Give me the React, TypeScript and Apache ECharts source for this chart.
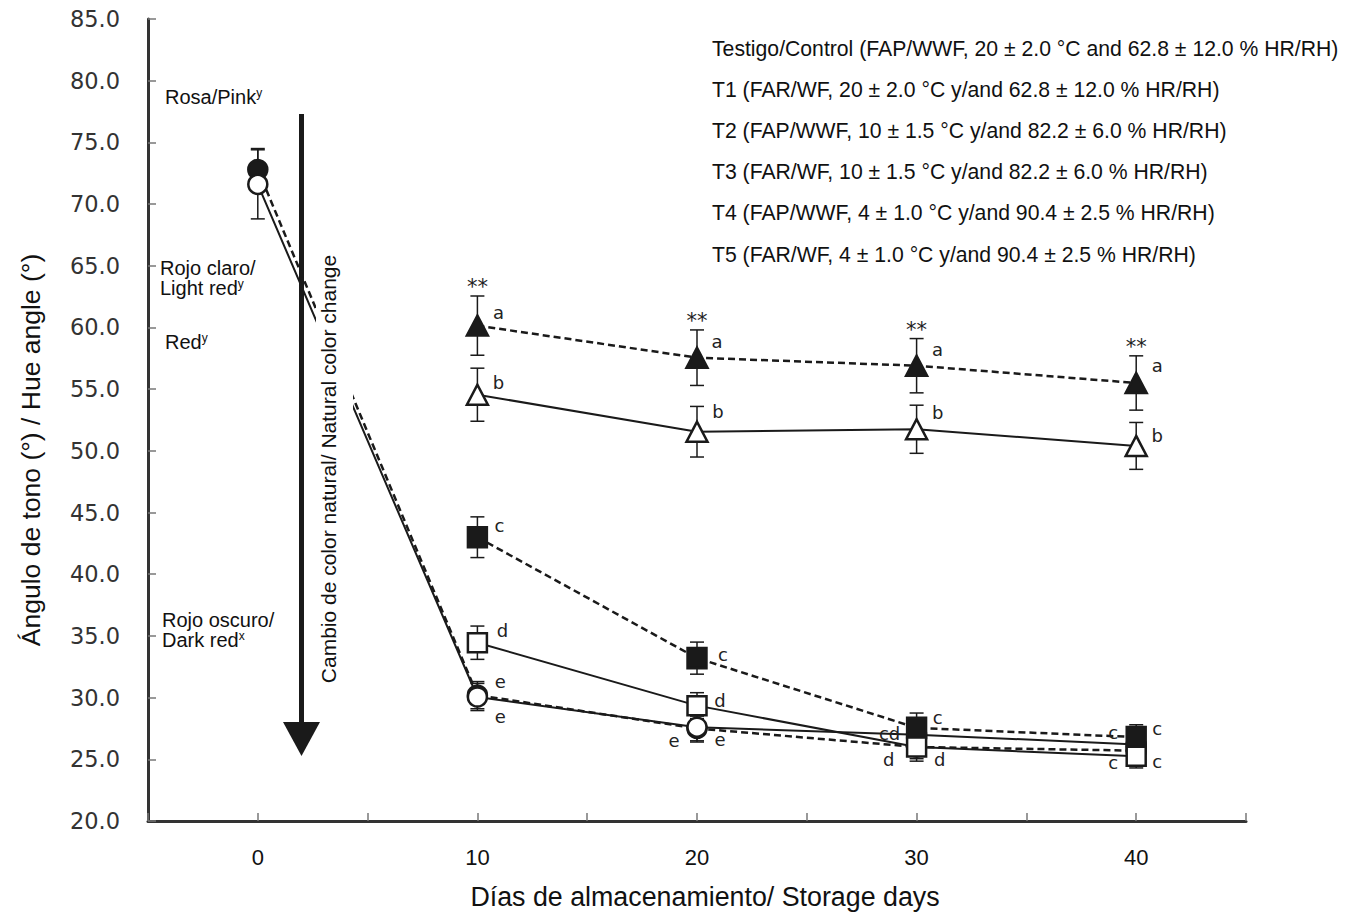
import React, { useEffect, useRef } from "react";
import * as echarts from "echarts";

// ---------- data ----------
const days = [0, 10, 20, 30, 40];
const xTickLabels = ["0", "10", "20", "30", "40"];

const legendNames = [
  "Testigo/Control (FAP/WWF, 20 ± 2.0 °C and 62.8 ± 12.0 % HR/RH)",
  "T1 (FAR/WF, 20 ± 2.0 °C y/and 62.8 ± 12.0 % HR/RH)",
  "T2 (FAP/WWF, 10 ± 1.5 °C y/and 82.2 ± 6.0 % HR/RH)",
  "T3 (FAR/WF, 10 ± 1.5 °C y/and 82.2 ± 6.0 % HR/RH)",
  "T4 (FAP/WWF, 4 ± 1.0 °C y/and 90.4 ± 2.5 % HR/RH)",
  "T5 (FAR/WF, 4 ± 1.0 °C y/and 90.4 ± 2.5 % HR/RH)",
];

const controlHue = [72.8, 30.2, 27.5, 26.0, 25.7];
const controlErr = [1.7, 1.1, 1.0, 1.15, 0.8];
const controlLetters = ["", "e", "e", "d", "c"];

const t1Hue = [71.6, 30.05, 27.6, 27.0, 26.2];
const t1Err = [2.8, 1.1, 1.2, 0.6, 0.6];
const t1Letters = ["", "e", "e", "cd", "c"];

const t2Hue = [null, 43.0, 33.2, 27.55, 26.8];
const t2Err = [null, 1.65, 1.3, 1.2, 1.0];
const t2Letters = ["", "c", "c", "c", "c"];

const t3Hue = [null, 34.45, 29.35, 26.0, 25.25];
const t3Err = [null, 1.35, 1.05, 0.95, 0.95];
const t3Letters = ["", "d", "d", "d", "c"];

const t4Hue = [null, 60.15, 57.55, 56.9, 55.5];
const t4Err = [null, 2.4, 2.25, 2.2, 2.2];
const t4Letters = ["", "a", "a", "a", "a"];
const t4Sig = ["", "**", "**", "**", "**"];

const t5Hue = [null, 54.55, 51.55, 51.75, 50.4];
const t5Err = [null, 2.15, 2.05, 1.95, 1.9];
const t5Letters = ["", "b", "b", "b", "b"];

const colorZones = [
  { main: "Rosa/Pink", sup: "y" },
  { main: "Rojo claro/\nLight red", sup: "y" },
  { main: "Red", sup: "y" },
  { main: "Rojo oscuro/\nDark red", sup: "x" },
];

// ---------- styling / layout ----------
const SANS = "'Liberation Sans', Arial, sans-serif";
const NARROW = "'Liberation Sans Narrow', 'Liberation Sans', Arial, sans-serif";
const DV = "'DejaVu Sans', Verdana, sans-serif";
const INK = "#1a1a1a";

type SeriesDef = {
  name: string;
  hue: (number | null)[];
  err: (number | null)[];
  letters: string[];
  sig?: string[];
  symbol: string;
  size: number | number[];
  filled: boolean;
  dashed: boolean;
  offsets: number[][];
};

const seriesDefs: SeriesDef[] = [
  {
    name: legendNames[0], hue: controlHue, err: controlErr, letters: controlLetters,
    symbol: "circle", size: 19, filled: true, dashed: true,
    offsets: [[0, 0], [23, 21], [-23, 12], [-28, 13], [-23, 12]],
  },
  {
    name: legendNames[1], hue: t1Hue, err: t1Err, letters: t1Letters,
    symbol: "circle", size: 19, filled: false, dashed: false,
    offsets: [[0, 0], [23, -15], [23, 12], [-27, -1], [-23, -12]],
  },
  {
    name: legendNames[4], hue: t4Hue, err: t4Err, letters: t4Letters, sig: t4Sig,
    symbol: "triangle", size: [21, 20], filled: true, dashed: true,
    offsets: [[0, 0], [21, -13], [20, -16], [21, -16], [21, -17]],
  },
  {
    name: legendNames[5], hue: t5Hue, err: t5Err, letters: t5Letters,
    symbol: "triangle", size: [21, 20], filled: false, dashed: false,
    offsets: [[0, 0], [21, -12], [21, -20], [21, -17], [21, -10]],
  },
  {
    name: legendNames[2], hue: t2Hue, err: t2Err, letters: t2Letters,
    symbol: "rect", size: [19, 20], filled: true, dashed: true,
    offsets: [[0, 0], [22, -12], [26, -4], [21, -10], [21, -9]],
  },
  {
    name: legendNames[3], hue: t3Hue, err: t3Err, letters: t3Letters,
    symbol: "rect", size: [19, 19], filled: false, dashed: false,
    offsets: [[0, 0], [25, -12], [23, -5], [23, 13], [21, 5]],
  },
];

function buildOption() {
  const errRows: number[][] = [];
  const errSig: string[] = [];
  seriesDefs.forEach((s) => {
    days.forEach((d, i) => {
      const v = s.hue[i];
      const e = s.err[i];
      if (v == null || e == null) return;
      errRows.push([d, v - e, v + e]);
      errSig.push(s.sig ? s.sig[i] : "");
    });
  });

  const lineSeries = seriesDefs.map((s) => ({
    type: "line",
    name: s.name,
    symbol: s.symbol,
    symbolSize: s.size,
    showAllSymbol: true,
    z: 3,
    lineStyle: { color: INK, width: s.dashed ? 2.5 : 2, type: s.dashed ? [7, 4] : "solid" },
    itemStyle: { color: s.filled ? INK : "#ffffff", borderColor: INK, borderWidth: 2.5 },
    emphasis: { disabled: true },
    data: days
      .map((d, i) => {
        const v = s.hue[i];
        if (v == null) return null;
        return {
          value: [d, v],
          label: {
            show: !!s.letters[i],
            formatter: s.letters[i],
            position: "inside",
            offset: s.offsets[i],
            fontFamily: DV,
            fontSize: 18,
            color: "#222",
          },
        };
      })
      .filter((x) => x !== null),
  }));

  const errorSeries = {
    type: "custom",
    name: "error",
    z: 1,
    silent: true,
    encode: { x: 0, y: [1, 2] },
    data: errRows,
    renderItem: (params: any, api: any) => {
      const x = api.value(0);
      const lo = api.coord([x, api.value(1)]);
      const hi = api.coord([x, api.value(2)]);
      const hw = 7;
      const st = { stroke: INK, lineWidth: 1.5 };
      const children: any[] = [
        { type: "line", shape: { x1: lo[0], y1: lo[1], x2: hi[0], y2: hi[1] }, style: st },
        { type: "line", shape: { x1: lo[0] - hw, y1: lo[1], x2: lo[0] + hw, y2: lo[1] }, style: st },
        { type: "line", shape: { x1: hi[0] - hw, y1: hi[1], x2: hi[0] + hw, y2: hi[1] }, style: st },
      ];
      const sig = errSig[params.dataIndex];
      if (sig) {
        children.push({
          type: "text",
          x: hi[0],
          y: hi[1] - 9,
          style: { text: sig, fill: "#222", font: `21px ${DV}`, align: "center", verticalAlign: "middle" },
        });
      }
      return { type: "group", children };
    },
  };

  const zoneY = [97, 278, 342, 630];
  const zoneX = [165, 160, 165, 162];
  const graphics: any[] = [];
  colorZones.forEach((z, i) => {
    const parts = z.main.split("\n");
    const text = parts
      .map((p, j) => (j === parts.length - 1 ? `{n|${p}}{s|${z.sup}}` : `{n|${p}}`))
      .join("\n");
    graphics.push({
      type: "text",
      x: zoneX[i],
      y: zoneY[i],
      style: {
        text,
        align: "left",
        verticalAlign: "middle",
        lineHeight: 20,
        rich: {
          n: { fontFamily: SANS, fontSize: 20, fill: "#111", lineHeight: 20 },
          s: { fontFamily: SANS, fontSize: 12, fill: "#111", verticalAlign: "top", lineHeight: 20 },
        },
      },
    });
  });

  legendNames.forEach((n, i) => {
    graphics.push({
      type: "text",
      x: 712,
      y: 48 + i * 41.2,
      style: { text: n, fontFamily: SANS, fontSize: 21.2, fill: "#111", align: "left", verticalAlign: "middle" },
    });
  });

  // arrow showing natural colour change
  graphics.push({
    type: "line",
    shape: { x1: 301.5, y1: 114, x2: 301.5, y2: 724 },
    style: { stroke: "#1a1a1a", lineWidth: 5 },
  });
  graphics.push({
    type: "polygon",
    shape: { points: [[283, 722], [320, 722], [301.5, 756]] },
    style: { fill: "#1a1a1a" },
  });
  graphics.push({
    type: "rect",
    z: 50,
    shape: { x: 316, y: 250, width: 37, height: 442 },
    style: { fill: "#ffffff" },
  });
  graphics.push({
    type: "text",
    z: 51,
    x: 328,
    y: 469,
    rotation: Math.PI / 2,
    style: {
      text: "Cambio de color natural/ Natural color change",
      fontFamily: SANS,
      fontSize: 21,
      fill: "#111",
      align: "center",
      verticalAlign: "middle",
    },
  });
  graphics.push({
    type: "text",
    x: 31,
    y: 450,
    rotation: Math.PI / 2,
    style: {
      text: "Ángulo de tono (°) / Hue angle (°)",
      fontFamily: NARROW,
      fontSize: 26.5,
      fill: "#111",
      align: "center",
      verticalAlign: "middle",
    },
  });

  return {
    animation: false,
    backgroundColor: "#ffffff",
    grid: { left: 148, top: 19, right: 109, bottom: 92, containLabel: false },
    xAxis: {
      type: "value",
      min: -5,
      max: 45,
      interval: 5,
      name: "Días de almacenamiento/ Storage days",
      nameLocation: "middle",
      nameGap: 62,
      nameTextStyle: { fontFamily: NARROW, fontSize: 26.8, color: "#111", padding: [0, 0, 0, 16] },
      axisLine: { onZero: false, lineStyle: { color: "#333", width: 3 } },
      axisTick: { inside: true, length: 8, lineStyle: { color: "#777", width: 1.5 } },
      splitLine: { show: false },
      axisLabel: {
        margin: 25,
        fontFamily: NARROW,
        fontSize: 22,
        color: "#111",
        formatter: (v: number) => {
          const idx = days.indexOf(v);
          return idx >= 0 ? xTickLabels[idx] : "";
        },
      },
    },
    yAxis: {
      type: "value",
      min: 20,
      max: 85,
      interval: 5,
      axisLine: { show: true, onZero: false, lineStyle: { color: "#333", width: 3 } },
      axisTick: { show: true, inside: true, length: 8, lineStyle: { color: "#777", width: 1.5 } },
      splitLine: { show: false },
      axisLabel: {
        margin: 28,
        fontFamily: DV,
        fontSize: 22.5,
        color: "#333",
        formatter: (v: number) => v.toFixed(1),
      },
    },
    series: [errorSeries, ...lineSeries],
    graphic: { elements: graphics },
  };
}

export default function App() {
  const ref = useRef<HTMLDivElement>(null);
  useEffect(() => {
    if (!ref.current) return;
    const chart = echarts.init(ref.current, null, { renderer: "svg" });
    chart.setOption(buildOption() as any);
    return () => chart.dispose();
  }, []);
  return (
    <div
      ref={ref}
      style={{ position: "fixed", left: 0, top: 0, width: 1355, height: 915, background: "#fff" }}
    />
  );
}
